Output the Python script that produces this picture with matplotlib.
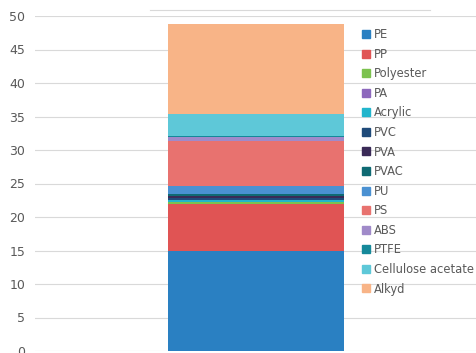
import matplotlib
matplotlib.use('Agg')
import matplotlib.pyplot as plt
from matplotlib.lines import Line2D

# polimeros empilhados numa unica barra
polymers = ['PE', 'PP', 'Polyester', 'PA', 'Acrylic', 'PVC', 'PVA', 'PVAC',
            'PU', 'PS', 'ABS', 'PTFE', 'Cellulose acetate', 'Alkyd']
values = [15.0, 6.9, 0.3, 0.1, 0.2, 0.4, 0.2, 0.3,
          1.2, 6.8, 0.6, 0.1, 3.3, 13.4]
colors = ['#2a80c2', '#e05454', '#7cc24f', '#8d68bd', '#22b5cc', '#1f4b7a',
          '#3a2a57', '#0f6a73', '#4a91d2', '#e8726f', '#a08ac9', '#15899a',
          '#5ec8d8', '#f8b487']
yticks = [0, 5, 10, 15, 20, 25, 30, 35, 40, 45, 50]

fig = plt.figure(figsize=(4.77, 3.53), dpi=100)
ax = fig.add_axes([35/477, 2/353, 442/477, 335/353])

bottom = 0
for name, v, c in zip(polymers, values, colors):
    ax.bar(0, v, width=0.4, bottom=bottom, color=c, label=name, zorder=3)
    bottom += v

ax.set_xlim(-0.5, 0.5)
ax.set_ylim(0, 50)
ax.set_yticks(yticks)
ax.set_xticks([])
ax.grid(axis='y', color='#d9d9d9', linewidth=0.8, zorder=0)
for s in ax.spines.values():
    s.set_visible(False)
ax.tick_params(axis='y', length=0, pad=7, labelsize=9, labelcolor='#595959')

# legenda dentro do grafico, lado direito
handles = [Line2D([0], [0], marker='s', color='none', markerfacecolor=c,
                  markeredgecolor=c, markersize=6) for c in colors]
leg = ax.legend(handles, polymers, loc='upper left', bbox_to_anchor=(0.72, 0.988),
                frameon=False, fontsize=8.3, labelspacing=0.57, handlelength=0.8,
                handletextpad=0.3, borderpad=0.2)
for t in leg.get_texts():
    t.set_color('#595959')

# linha cinza no topo
fig.add_artist(Line2D([150/477, 430/477], [1 - 9.5/353, 1 - 9.5/353],
                      color='#d9d9d9', linewidth=0.8))

fig.savefig('out.png', dpi=100)
